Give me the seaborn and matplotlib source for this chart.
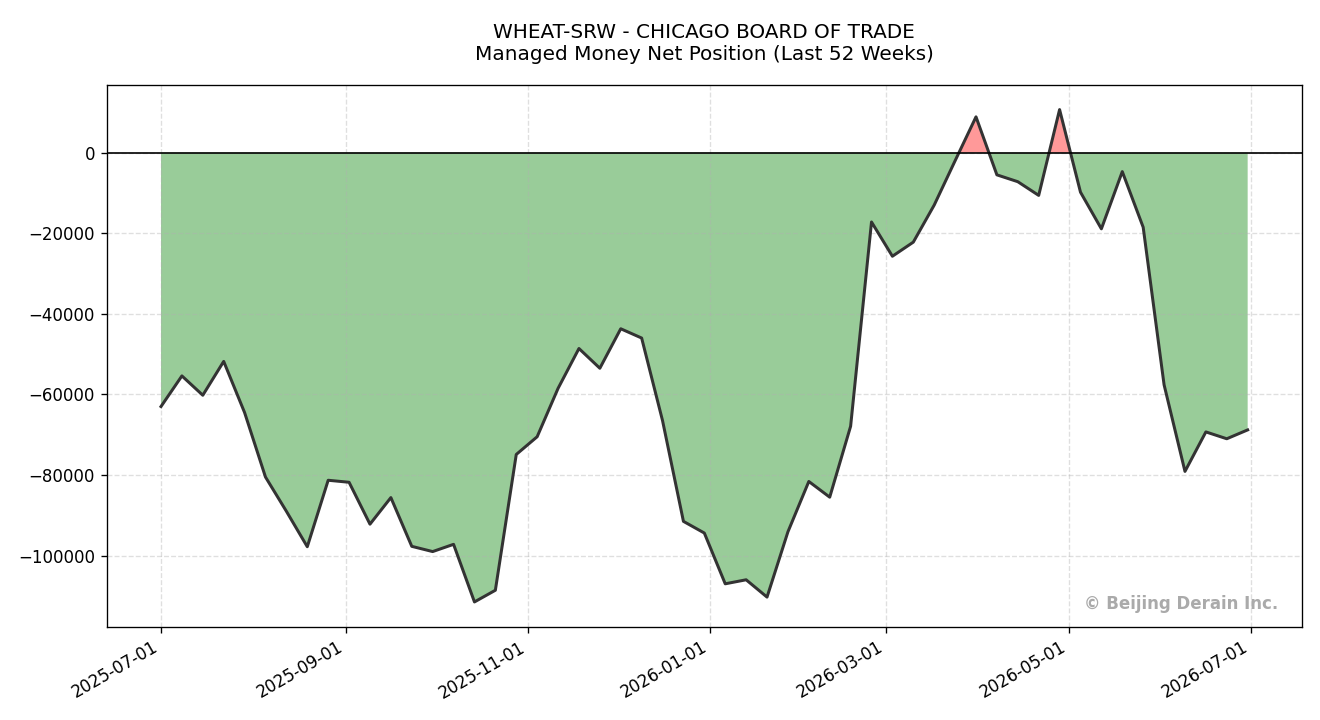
import seaborn as sns
import matplotlib.pyplot as plt
import matplotlib.dates as mdates
import pandas as pd
import numpy as np

# weekly report dates (Tuesdays), last 52 weeks
start_date = "2025-07-01"
n_weeks = 53

# managed money net position
net_position = [
    -63000, -55400, -60200, -51800, -64500, -80500, -89000, -97800, -81300, -81800,
    -92200, -85600, -97700, -99000, -97200, -111500, -108600, -74900, -70500, -58500,
    -48600, -53500, -43700, -46000, -66500, -91500, -94400, -107000, -106000, -110300,
    -94100, -81600, -85500, -67900, -17200, -25700, -22200, -13000, -2000, 8900,
    -5500, -7200, -10600, 10700, -9800, -18900, -4700, -18500, -57600, -79100,
    -69300, -71000, -68800,
]

title_text = "WHEAT-SRW - CHICAGO BOARD OF TRADE\nManaged Money Net Position (Last 52 Weeks)"
watermark = "\u00a9 Beijing Derain Inc."

df = pd.DataFrame({
    "date": pd.date_range(start_date, periods=n_weeks, freq="7D"),
    "net": net_position,
})

fig, ax = plt.subplots(figsize=(11, 6), dpi=120)

y = df["net"].to_numpy()
ax.fill_between(df["date"], y, 0, where=(y >= 0), interpolate=True,
                color="red", alpha=0.4, linewidth=0)
ax.fill_between(df["date"], y, 0, where=(y < 0), interpolate=True,
                color="green", alpha=0.4, linewidth=0)
sns.lineplot(x="date", y="net", data=df, ax=ax, color="#333333", linewidth=1.8)

ax.axhline(0, color="black", linewidth=1)

ax.set_title(title_text, fontsize=12, pad=15)
ax.set_xlabel("")
ax.set_ylabel("")
ax.grid(True, linestyle="--", alpha=0.4)

ax.xaxis.set_major_locator(mdates.MonthLocator(bymonth=[1, 3, 5, 7, 9, 11]))
ax.xaxis.set_major_formatter(mdates.DateFormatter("%Y-%m-%d"))
fig.autofmt_xdate()

ax.text(0.98, 0.025, watermark, transform=ax.transAxes, ha="right", va="bottom",
        fontsize=10, fontweight="bold", color="#aaaaaa")

plt.tight_layout()
plt.subplots_adjust(top=0.882)
plt.savefig("out.png", dpi=120)
